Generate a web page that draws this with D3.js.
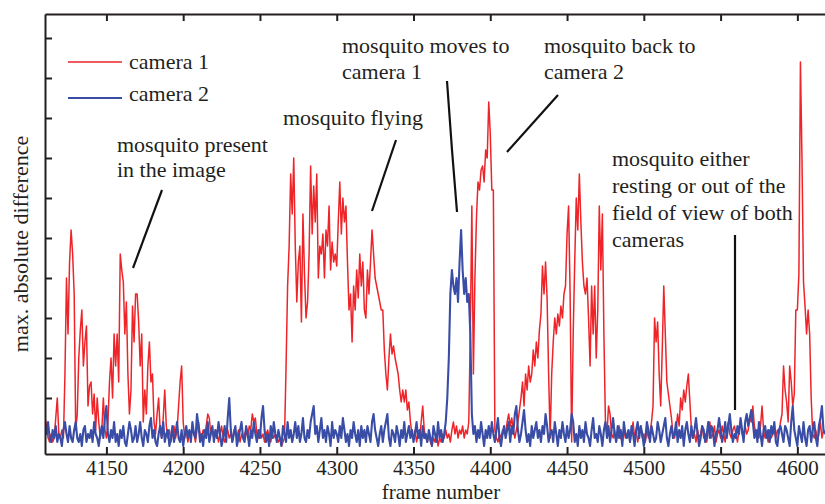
<!DOCTYPE html>
<html><head><meta charset="utf-8">
<script src="https://cdn.jsdelivr.net/npm/d3@7"></script>
<style>
body{margin:0;background:#fff}
svg{display:block}
text{font-family:"Liberation Serif","Times New Roman",serif;fill:#231f20}
</style>
</head><body>
<svg id="chart" width="825" height="504"></svg>
<script>
// ---------- data ----------
const firstFrame = 4110;           // frame number of the first sample (one sample per frame)
const seriesNames = ["camera 1", "camera 2"];
const seriesColors = ["#ee2429", "#3a4da6"];
// camera 1 (red) max. absolute difference, frames 4110..4618
const camera1 = [
  9,7,4,3,5,3,4,9,14,5,        // 4110
  4,6,4,20,44,30,48,56,50,40,  // 4120
  6,10,24,31,36,22,28,32,12,17,// 4130
  18,10,15,6,14,8,4,6,14,6,    // 4140
  4,8,18,24,14,30,22,30,18,50, // 4150
  46,43,30,38,20,10,16,37,28,40,//4160
  40,33,22,30,8,16,10,22,28,18,// 4170
  20,8,5,10,14,6,4,9,16,7,     // 4180
  4,6,3,5,7,4,6,12,18,22,      // 4190
  8,4,6,3,5,4,7,5,3,6,         // 4200
  8,5,4,6,5,7,10,9,5,6,        // 4210
  4,6,5,3,5,7,4,3,5,6,         // 4220
  4,5,3,6,5,4,6,3,5,4,         // 4230
  5,6,4,7,6,10,8,9,5,4,        // 4240
  6,4,5,3,5,6,4,3,5,4,         // 4250
  5,4,3,4,2,3,4,22,42,52,      // 4260
  70,60,74,52,38,48,52,33,60,45,//4270
  34,38,50,72,55,67,58,70,44,52,//4280
  50,55,44,56,52,62,46,53,48,50,//4290
  47,58,68,55,64,58,62,48,36,40,//4300
  28,42,36,46,39,50,42,48,36,34,//4310
  46,40,48,56,50,44,42,40,38,36,//4320
  36,26,20,16,24,30,25,27,24,22,//4330
  20,16,13,16,13,16,11,13,8,5, // 4340
  4,6,3,5,4,8,12,6,4,3,        // 4350
  5,3,2,4,3,5,2,4,3,5,         // 4360
  4,6,4,5,3,6,8,5,7,4,         // 4370
  6,5,7,4,6,5,8,30,62,20,      // 4380
  44,59,68,66,71,72,68,76,74,88,//4390
  80,66,66,6,4,3,5,4,6,5,      // 4400
  5,8,10,7,9,6,4,6,8,11,       // 4410
  14,18,12,20,16,22,18,20,26,22,//4420
  28,24,31,35,47,40,48,39,20,4,// 4430
  20,28,34,30,35,32,37,34,40,42,//4440
  55,62,40,3,30,48,64,56,70,58,// 4450
  48,42,40,44,34,22,42,30,42,24,//4460
  36,62,46,60,30,8,5,12,10,5,  // 4470
  4,6,3,5,7,4,3,6,4,5,         // 4480
  6,3,5,8,4,6,3,5,7,4,         // 4490
  5,3,6,4,5,8,12,34,28,33,     // 4500
  20,12,26,42,30,18,15,12,9,5, // 4510
  4,6,10,7,14,11,16,13,17,20,  // 4520
  13,6,4,5,3,6,4,5,7,4,        // 4530
  5,3,6,8,4,5,7,3,5,6,         // 4540
  4,7,5,3,6,8,5,4,6,7,         // 4550
  5,3,6,8,5,4,7,5,6,9,         // 4560
  8,12,7,5,6,4,7,12,6,4,       // 4570
  5,3,6,4,5,7,4,6,5,8,         // 4580
  10,22,16,13,8,22,18,12,15,36,// 4590
  36,45,98,74,43,37,30,36,30,14,//4600
  5,4,6,3,5,8,4,6,5            // 4610
];
// camera 2 (blue) max. absolute difference, frames 4110..4618
const camera2 = [
  7,5,8,4,3,6,4,7,3,5,
  4,2,6,8,5,3,7,4,3,6,
  8,4,3,5,2,6,7,3,5,4,
  6,3,8,5,4,2,5,7,4,9,
  12,5,3,6,4,8,3,5,2,6,
  4,7,3,2,5,8,6,3,4,7,
  3,5,8,4,2,6,5,3,7,9,
  4,6,3,2,5,7,4,8,3,5,
  6,2,4,7,3,5,8,4,3,6,
  2,5,7,4,6,3,8,5,4,10,
  7,3,5,2,6,4,8,3,5,7,
  3,6,4,8,5,2,4,7,3,9,
  14,6,3,5,7,2,4,6,8,4,
  3,7,5,2,6,4,8,5,3,6,
  4,9,12,6,3,5,2,7,4,8,
  5,3,6,4,2,7,5,3,8,4,
  6,3,5,8,4,7,3,5,9,4,
  3,6,4,8,10,12,5,7,3,6,
  9,4,6,3,7,5,2,8,4,6,
  5,3,7,4,9,6,3,5,2,6,
  4,8,5,3,6,2,7,4,6,3,
  7,5,3,8,10,6,4,2,5,7,
  3,6,8,10,4,2,6,5,3,7,
  5,2,6,4,8,3,5,7,4,6,
  3,5,8,4,6,2,7,4,5,3,
  6,4,2,7,5,3,8,4,6,3,
  5,8,14,24,40,46,42,40,44,38,
  48,56,46,40,44,38,40,30,10,5,
  7,3,6,4,8,5,2,6,4,7,
  4,8,5,3,6,9,4,2,5,7,
  4,6,8,3,7,5,10,12,6,3,
  5,8,11,6,3,5,2,7,4,6,
  8,4,6,3,7,5,10,7,3,5,
  6,3,8,5,2,6,4,8,5,3,
  7,4,6,10,8,3,5,2,7,4,
  6,3,8,5,4,2,6,9,4,5,
  3,7,5,2,6,8,4,7,3,6,
  9,5,3,7,4,6,2,8,5,4,
  6,3,7,5,2,6,8,4,7,5,
  2,4,8,6,3,7,5,3,4,8,
  6,3,5,7,9,4,2,5,7,4,
  5,8,3,6,4,7,2,6,8,5,
  3,7,4,6,9,5,2,4,7,6,
  3,5,8,4,7,6,2,5,6,9,
  6,3,5,8,4,7,10,6,3,5,
  4,7,5,9,6,3,8,10,7,9,
  11,8,4,6,3,8,5,2,6,7,
  4,6,3,7,5,8,3,2,6,7,
  5,3,7,6,4,2,8,12,6,4,
  2,7,5,3,8,4,2,6,7,3,
  6,8,4,2,7,9,12,6,5
];
const xDomain = [4110, 4618];
const yDomain = [0, 110];
const xTickValues = [4150, 4200, 4250, 4300, 4350, 4400, 4450, 4500, 4550, 4600];
const yTickValues = [14, 24, 34, 44, 54, 64, 74, 84, 94, 104];
const xTitle = "frame number";
const yTitle = "max. absolute difference";
const notes = [
  ["mosquito present", "in the image"],
  ["mosquito flying"],
  ["mosquito moves to", "camera 1"],
  ["mosquito back to", "camera 2"],
  ["mosquito either", "resting or out of the", "field of view of both", "cameras"]
];

// ---------- drawing ----------
const plot = {left: 45, right: 825, top: 14, bottom: 454};
const svg = d3.select("#chart");
const x = d3.scaleLinear().domain(xDomain).range([plot.left, plot.right]);
const y = d3.scaleLinear().domain(yDomain).range([plot.bottom, plot.top]);
const FS = 22;
const SERIF = '"Liberation Serif", "Times New Roman", serif';

svg.append("defs").append("clipPath").attr("id", "clip")
  .append("rect").attr("x", plot.left).attr("y", plot.top)
  .attr("width", plot.right - plot.left).attr("height", plot.bottom - plot.top);

const toPts = arr => arr.map((v, i) => ({f: firstFrame + i, v}));
const line = d3.line().x(d => x(d.f)).y(d => y(d.v));
const g = svg.append("g").attr("clip-path", "url(#clip)");
g.append("path").datum(toPts(camera1)).attr("d", line)
  .attr("fill", "none").attr("stroke", seriesColors[0]).attr("stroke-width", 1.5)
  .attr("stroke-linejoin", "round");
g.append("path").datum(toPts(camera2)).attr("d", line)
  .attr("fill", "none").attr("stroke", seriesColors[1]).attr("stroke-width", 2.1)
  .attr("stroke-linejoin", "round");

// axes
const axCol = "#231f20";
const bottomAxis = svg.append("g").attr("transform", `translate(0,${plot.bottom})`)
  .call(d3.axisBottom(x).tickValues(xTickValues).tickSizeInner(-7).tickSizeOuter(0).tickFormat(d3.format("d")));
const topAxis = svg.append("g").attr("transform", `translate(0,${plot.top})`)
  .call(d3.axisTop(x).tickValues(xTickValues).tickSizeInner(-7).tickSizeOuter(0).tickFormat(""));
const leftAxis = svg.append("g").attr("transform", `translate(${plot.left},0)`)
  .call(d3.axisLeft(y).tickValues(yTickValues).tickSizeInner(-7).tickSizeOuter(0).tickFormat(""));
[bottomAxis, topAxis, leftAxis].forEach(a => {
  a.attr("font-family", null);
  a.select(".domain").attr("stroke", axCol).attr("stroke-width", 2);
  a.selectAll(".tick line").attr("stroke", axCol).attr("stroke-width", 2);
});
bottomAxis.selectAll(".tick text")
  .attr("y", 21).attr("dy", null)
  .style("font-family", SERIF).style("font-size", "21px").attr("fill", axCol);

svg.append("text").attr("x", 441).attr("y", 499)
  .attr("text-anchor", "middle").style("font-size", "21px").text(xTitle);
svg.append("text").attr("transform", `translate(28,${(plot.top + plot.bottom) / 2 + 10}) rotate(-90)`)
  .attr("text-anchor", "middle").style("font-size", FS + "px").text(yTitle);

// legend
const legendRows = [{y: 62, ty: 69}, {y: 98, ty: 101}];
seriesNames.forEach((name, i) => {
  svg.append("line").attr("x1", 68).attr("x2", 122).attr("y1", legendRows[i].y).attr("y2", legendRows[i].y)
    .attr("stroke", seriesColors[i]).attr("stroke-width", i ? 2 : 1.6);
  svg.append("text").attr("x", 129).attr("y", legendRows[i].ty).style("font-size", FS + "px").text(name);
});

// annotations
const notePos = [
  {x: 117, y: 152, lh: 25},
  {x: 283, y: 125, lh: 26},
  {x: 342, y: 53, lh: 26},
  {x: 544, y: 53, lh: 26},
  {x: 612, y: 166, lh: 27}
];
notes.forEach((lines, i) => {
  const t = svg.append("text").style("font-size", FS + "px");
  lines.forEach((s, j) => t.append("tspan").attr("x", notePos[i].x).attr("y", notePos[i].y + j * notePos[i].lh).text(s));
});
const pointers = [
  [[133, 268], [162, 190]],
  [[372, 211], [396, 140]],
  [[447, 81], [452, 150], [457, 212]],
  [[507, 152], [558, 95]],
  [[735, 235], [735, 410]]
];
pointers.forEach(p => {
  svg.append("path").attr("d", d3.line()(p)).attr("fill", "none")
    .attr("stroke", "#111").attr("stroke-width", 2.2);
});
</script>
</body></html>
